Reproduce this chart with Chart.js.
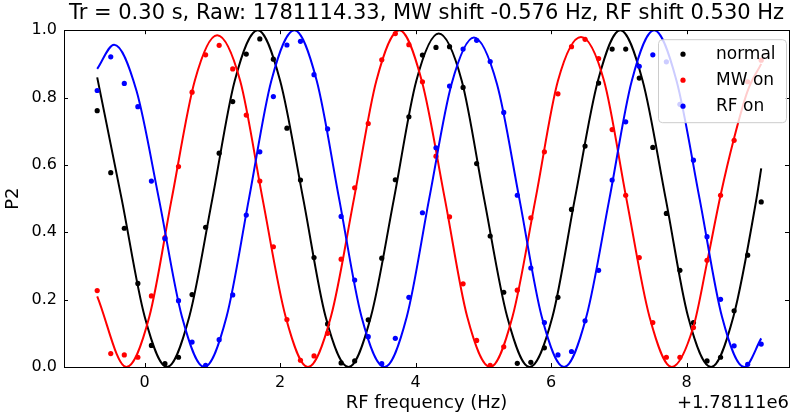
<!DOCTYPE html>
<html>
<head>
<meta charset="utf-8">
<script src="https://cdn.jsdelivr.net/npm/chart.js@4.4.1/dist/chart.umd.min.js"></script>
<style>
  html, body { margin: 0; padding: 0; background: #fff; }
  #wrap { width: 793px; height: 420px; }
</style>
</head>
<body>
<div id="wrap"><canvas id="chart" width="793" height="420"></canvas></div>
<script>
// measured points (RF frequency offset from 1.78111e6 Hz)
const freqs = [-0.7, -0.5, -0.3, -0.1, 0.1, 0.3, 0.5, 0.7, 0.9, 1.1,
               1.3, 1.5, 1.7, 1.9, 2.1, 2.3, 2.5, 2.7, 2.9, 3.1,
               3.3, 3.5, 3.7, 3.9, 4.1, 4.3, 4.5, 4.7, 4.9, 5.1,
               5.3, 5.5, 5.7, 5.9, 6.1, 6.3, 6.5, 6.7, 6.9, 7.1,
               7.3, 7.5, 7.7, 7.9, 8.1, 8.3, 8.5, 8.7, 8.9, 9.1];

const normalP2 = [0.761, 0.577, 0.412, 0.248, 0.064, 0.010, 0.029, 0.215, 0.415, 0.635,
                  0.788, 0.929, 0.974, 0.914, 0.709, 0.555, 0.325, 0.128, 0.012, 0.018,
                  0.140, 0.323, 0.556, 0.743, 0.926, 0.949, 0.951, 0.830, 0.604, 0.389,
                  0.222, 0.011, 0.014, 0.057, 0.207, 0.468, 0.656, 0.843, 0.944, 0.944,
                  0.858, 0.652, 0.456, 0.287, 0.132, 0.018, 0.029, 0.167, 0.332, 0.490];

const mwP2 = [0.227, 0.040, 0.036, 0.029, 0.211, 0.384, 0.595, 0.816, 0.927, 0.955,
              0.885, 0.748, 0.552, 0.357, 0.141, 0.020, 0.033, 0.100, 0.320, 0.532,
              0.723, 0.912, 0.990, 0.957, 0.847, 0.626, 0.446, 0.247, 0.079, 0.005,
              0.060, 0.228, 0.443, 0.639, 0.811, 0.951, 0.973, 0.916, 0.705, 0.510,
              0.325, 0.132, 0.029, 0.029, 0.117, 0.317, 0.510, 0.673, 0.847, 0.911];

const rfP2 = [0.821, 0.921, 0.842, 0.773, 0.552, 0.381, 0.197, 0.074, 0.005, 0.081,
              0.214, 0.451, 0.639, 0.803, 0.956, 0.967, 0.868, 0.707, 0.447, 0.258,
              0.090, 0.010, 0.085, 0.207, 0.458, 0.651, 0.834, 0.944, 0.970, 0.907,
              0.756, 0.510, 0.294, 0.132, 0.036, 0.046, 0.137, 0.287, 0.555, 0.728,
              0.893, 0.927, 0.906, 0.780, 0.614, 0.387, 0.201, 0.063, 0.008, 0.068];

// fit curves at extrema / crossings
const normalFitX = [-0.70, -0.34, 0.00, 0.33, 0.66, 1.00, 1.33, 1.67, 2.00, 2.34, 2.67, 3.01, 3.34, 3.68, 4.01, 4.34,
                    4.68, 5.01, 5.35, 5.68, 6.02, 6.35, 6.69, 7.02, 7.35, 7.69, 8.02, 8.36, 8.69, 9.03, 9.10];
const normalFitY = [0.86, 0.50, 0.15, 0.00, 0.15, 0.50, 0.85, 1.00, 0.85, 0.50, 0.15, 0.00, 0.15, 0.50, 0.85, 0.99,
                    0.85, 0.50, 0.15, 0.00, 0.15, 0.50, 0.85, 1.00, 0.85, 0.50, 0.15, 0.00, 0.15, 0.50, 0.59];

const mwFitX = [-0.70, -0.27, 0.07, 0.40, 0.74, 1.07, 1.41, 1.74, 2.08, 2.41, 2.75, 3.09, 3.42, 3.76, 4.09, 4.43,
                4.76, 5.10, 5.43, 5.77, 6.10, 6.44, 6.78, 7.11, 7.45, 7.78, 8.10, 8.30, 8.50, 8.70, 8.90, 9.10];
const mwFitY = [0.21, 0.00, 0.15, 0.50, 0.85, 0.985, 0.85, 0.50, 0.15, 0.00, 0.15, 0.50, 0.85, 1.00, 0.85, 0.50,
                0.15, 0.00, 0.15, 0.50, 0.85, 0.98, 0.85, 0.50, 0.15, 0.00, 0.12, 0.31, 0.51, 0.68, 0.82, 0.90];

const rfFitX = [-0.70, -0.45, -0.12, 0.21, 0.55, 0.88, 1.21, 1.54, 1.87, 2.21, 2.54, 2.87, 3.20, 3.54, 3.87, 4.20,
                4.53, 4.86, 5.20, 5.53, 5.86, 6.19, 6.52, 6.86, 7.19, 7.52, 7.85, 8.19, 8.52, 8.85, 9.10];
const rfFitY = [0.885, 0.957, 0.82, 0.50, 0.15, 0.00, 0.15, 0.50, 0.85, 1.00, 0.85, 0.50, 0.15, 0.00, 0.15, 0.50,
                0.84, 0.978, 0.84, 0.50, 0.15, 0.00, 0.15, 0.50, 0.85, 1.00, 0.85, 0.50, 0.15, 0.00, 0.085];

const xTicks = [0, 2, 4, 6, 8];
const yTicks = [0, 0.2, 0.4, 0.6, 0.8, 1.0];
const xMin = -1.19, xMax = 9.51;

const titleText = 'Tr = 0.30 s, Raw: 1781114.33, MW shift -0.576 Hz, RF shift 0.530 Hz';
const offsetText = '+1.78111e6';
const FONT = "'DejaVu Sans', sans-serif";

function pts(xs, ys) {
    return xs.map((x, i) => ({ x: x, y: ys[i] }));
}

function scatterSet(label, ys, color, order) {
    return {
        label: label,
        data: pts(freqs, ys),
        showLine: false,
        backgroundColor: color,
        borderColor: color,
        pointRadius: 2.6,
        pointBorderWidth: 0,
        order: order
    };
}

function fitSet(xs, ys, color, order) {
    return {
        label: '',
        data: pts(xs, ys),
        showLine: true,
        borderColor: color,
        borderWidth: 2,
        pointRadius: 0,
        cubicInterpolationMode: 'monotone',
        fill: false,
        order: order,
        isFit: true
    };
}

// frame, inward ticks, legend and offset text in matplotlib style
const decorations = {
    id: 'decorations',
    afterDatasetsDraw(chart) {
        const ctx = chart.ctx;
        const a = chart.chartArea;
        const xs = chart.scales.x, ys = chart.scales.y;
        ctx.save();
        ctx.strokeStyle = '#000';
        ctx.lineWidth = 1;
        ctx.beginPath();
        xTicks.forEach(v => {
            const px = Math.round(xs.getPixelForValue(v)) + 0.5;
            ctx.moveTo(px, a.bottom); ctx.lineTo(px, a.bottom - 4);
            ctx.moveTo(px, a.top); ctx.lineTo(px, a.top + 4);
        });
        yTicks.forEach(v => {
            const py = Math.round(ys.getPixelForValue(v)) + 0.5;
            ctx.moveTo(a.left, py); ctx.lineTo(a.left + 4, py);
            ctx.moveTo(a.right, py); ctx.lineTo(a.right - 4, py);
        });
        ctx.stroke();
        ctx.strokeRect(Math.round(a.left) + 0.5, Math.round(a.top) + 0.5,
                       Math.round(a.right - a.left), Math.round(a.bottom - a.top));

        // legend
        const bx = a.right - 131, by = a.top + 9, bw = 128, bh = 83;
        ctx.beginPath();
        ctx.roundRect(bx + 0.5, by + 0.5, bw, bh, 4);
        ctx.fillStyle = 'rgba(255,255,255,0.8)';
        ctx.fill();
        ctx.strokeStyle = '#cccccc';
        ctx.stroke();
        const entries = chart.data.datasets.filter(d => !d.isFit);
        ctx.font = '17px ' + FONT;
        ctx.textBaseline = 'middle';
        ctx.textAlign = 'left';
        entries.forEach((d, i) => {
            const cy = by + 15 + i * 26;
            ctx.fillStyle = d.backgroundColor;
            ctx.beginPath();
            ctx.arc(bx + 25, cy, 2.6, 0, Math.PI * 2);
            ctx.fill();
            ctx.fillStyle = '#000';
            ctx.fillText(d.label, bx + 58, cy);
        });

        // axis offset
        ctx.font = '18px ' + FONT;
        ctx.textAlign = 'right';
        ctx.fillText(offsetText, a.right, 403);
        ctx.restore();
    }
};

const ctx = document.getElementById('chart').getContext('2d');
new Chart(ctx, {
    type: 'scatter',
    data: {
        datasets: [
            scatterSet('normal', normalP2, '#000000', 6),
            fitSet(normalFitX, normalFitY, '#000000', 5),
            scatterSet('MW on', mwP2, '#ff0000', 4),
            fitSet(mwFitX, mwFitY, '#ff0000', 3),
            scatterSet('RF on', rfP2, '#0000ff', 2),
            fitSet(rfFitX, rfFitY, '#0000ff', 1)
        ]
    },
    options: {
        responsive: false,
        animation: false,
        layout: { padding: { left: 0, right: 4, top: 0, bottom: 0 } },
        plugins: {
            legend: { display: false },
            tooltip: { enabled: false },
            title: {
                display: true,
                text: titleText,
                fullSize: false,
                color: '#000',
                font: { family: FONT, size: 21, weight: 'normal', lineHeight: 1.2 },
                padding: { top: 1, bottom: 4 }
            }
        },
        scales: {
            x: {
                type: 'linear',
                min: xMin,
                max: xMax,
                afterBuildTicks: s => { s.ticks = xTicks.map(v => ({ value: v })); },
                afterFit: s => { s.height = 53; },
                grid: { display: false, drawTicks: false },
                border: { display: false },
                ticks: { color: '#000', font: { family: FONT, size: 16 }, padding: 6, callback: v => String(v) },
                title: {
                    display: true, text: 'RF frequency (Hz)', color: '#000',
                    font: { family: FONT, size: 18 }, padding: { top: 0, bottom: 6 }
                }
            },
            y: {
                type: 'linear',
                min: 0,
                max: 1,
                afterBuildTicks: s => { s.ticks = yTicks.map(v => ({ value: v })); },
                afterFit: s => { s.width = 64; },
                grid: { display: false, drawTicks: false },
                border: { display: false },
                ticks: { color: '#000', font: { family: FONT, size: 16 }, padding: 7, callback: v => v.toFixed(1) },
                title: {
                    display: true, text: 'P2', color: '#000',
                    font: { family: FONT, size: 18 }, padding: { top: 3, bottom: 0 }
                }
            }
        }
    },
    plugins: [decorations]
});
</script>
</body>
</html>
